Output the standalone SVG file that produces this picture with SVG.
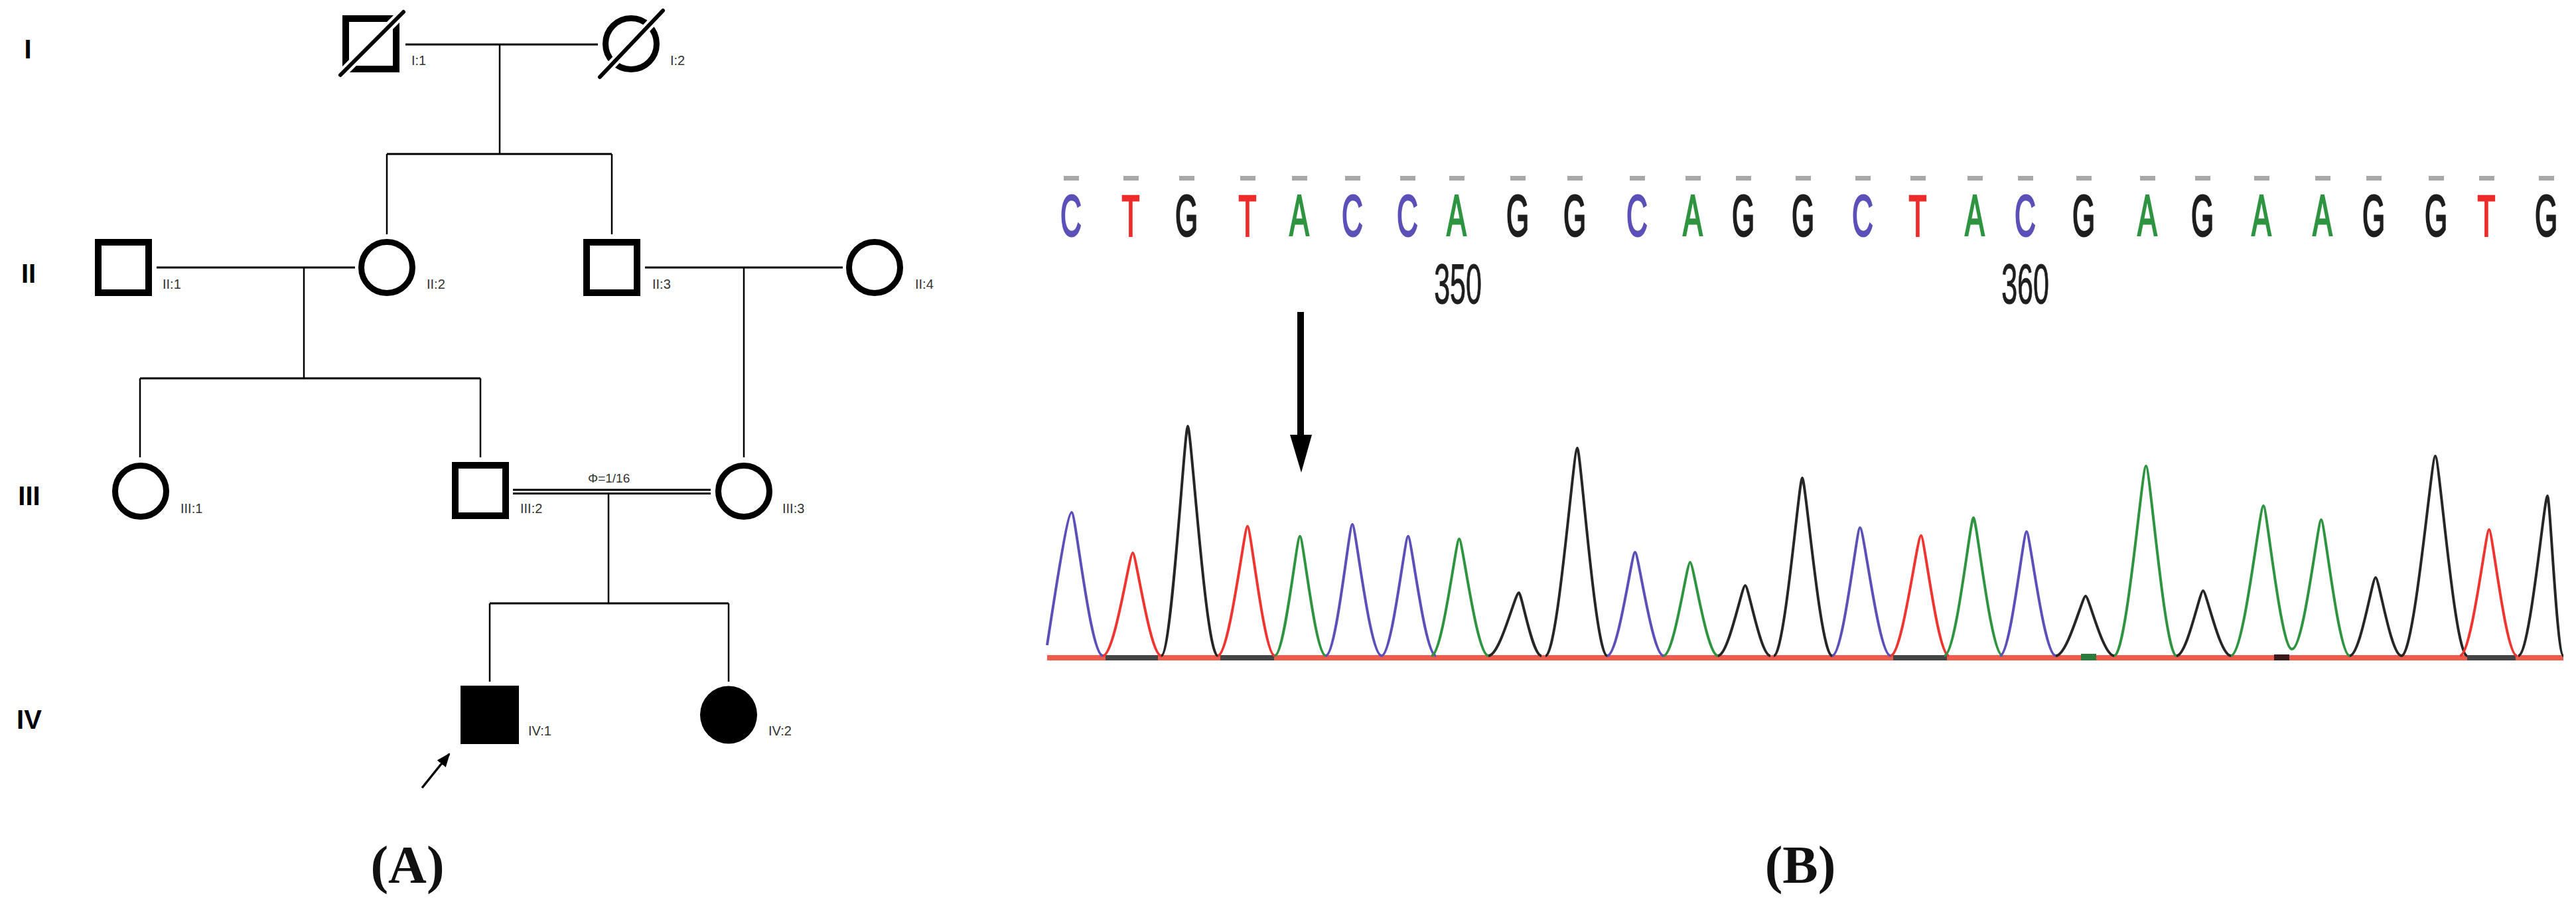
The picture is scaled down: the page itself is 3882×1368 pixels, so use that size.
<svg xmlns="http://www.w3.org/2000/svg" width="3882" height="1368" viewBox="0 0 3882 1368">
<defs>
<style>
.sq{fill:#fff;stroke:#000;stroke-width:10}
.ci{fill:#fff;stroke:#000;stroke-width:9}
.aff{fill:#000;stroke:none}
.lbl{font-family:"Liberation Sans",Arial,sans-serif;font-size:20px;fill:#333}
.gen{font-family:"Liberation Sans",Arial,sans-serif;font-size:40px;font-weight:bold;fill:#000;text-anchor:middle}
.conn line{stroke:#000;stroke-width:3}
.conn line.v{stroke-width:2.5}
.panel{font-family:"Liberation Serif","Times New Roman",serif;font-size:80px;font-weight:bold;fill:#111;text-anchor:middle}
.base{font-family:"Liberation Sans",Arial,sans-serif;font-size:88px;text-anchor:middle;stroke-width:3}
.C{fill:#5b50b8;stroke:#5b50b8}.T{fill:#ee2b2b;stroke:#ee2b2b}.G{fill:#1e1e1e;stroke:#1e1e1e}.A{fill:#2e9440;stroke:#2e9440}
.pos{font-family:"Liberation Sans",Arial,sans-serif;font-size:86px;text-anchor:middle;fill:#1e1e1e;stroke:#1e1e1e;stroke-width:1}
.dash{fill:#a8a8a8}
.pk{fill:none;stroke-width:4;stroke-linejoin:round}
.pb{stroke:#5b50b8}.pr{stroke:#ee3530}.pg{stroke:#2e9440}.pk0{stroke:#262626}
</style>
<marker id="ah" viewBox="0 0 10 10" refX="9" refY="5" markerWidth="6" markerHeight="6" orient="auto" markerUnits="strokeWidth">
<path d="M0,1 L10,5 L0,9 Z" fill="#000"/>
</marker>
</defs>
<rect width="3882" height="1368" fill="#fff"/>

<!-- Generation labels -->
<g id="gen-labels">
<text class="gen" x="42" y="88">I</text>
<text class="gen" x="43" y="426">II</text>
<text class="gen" x="44" y="761">III</text>
<text class="gen" x="44" y="1098">IV</text>
</g>

<!-- Connectors -->
<g id="connectors" class="conn">
<line x1="611" y1="67" x2="901" y2="67"/>
<line class="v" x1="753" y1="67" x2="753" y2="232"/>
<line x1="583" y1="232" x2="922" y2="232"/>
<line class="v" x1="583" y1="232" x2="583" y2="353"/>
<line class="v" x1="922" y1="232" x2="922" y2="353"/>
<line x1="236" y1="403" x2="535" y2="403"/>
<line class="v" x1="458" y1="403" x2="458" y2="570"/>
<line x1="972" y1="403" x2="1270" y2="403"/>
<line class="v" x1="1121" y1="403" x2="1121" y2="689"/>
<line x1="211" y1="570" x2="724" y2="570"/>
<line class="v" x1="211" y1="570" x2="211" y2="689"/>
<line class="v" x1="724" y1="570" x2="724" y2="689"/>
<line x1="773" y1="738" x2="1071" y2="738"/>
<line x1="773" y1="743.5" x2="1071" y2="743.5"/>
<line class="v" x1="917" y1="743" x2="917" y2="909"/>
<line x1="738" y1="909" x2="1098" y2="909"/>
<line class="v" x1="738" y1="909" x2="738" y2="1027"/>
<line class="v" x1="1098" y1="909" x2="1098" y2="1027"/>
</g>
<text id="phi" class="lbl" x="886" y="727" style="font-size:19px">Φ=1/16</text>

<!-- Nodes -->
<g id="I-1">
<rect class="sq" x="521" y="28" width="76" height="76"/>
<line x1="513" y1="113" x2="608" y2="18" stroke="#fff" stroke-width="14" stroke-linecap="round"/>
<line x1="513" y1="113" x2="608" y2="18" stroke="#000" stroke-width="6" stroke-linecap="round"/>
<text class="lbl" x="620" y="98">I:1</text>
</g>
<g id="I-2">
<circle class="ci" cx="951" cy="66" r="38.5"/>
<line x1="904" y1="116" x2="999" y2="16" stroke="#fff" stroke-width="14" stroke-linecap="round"/>
<line x1="904" y1="116" x2="999" y2="16" stroke="#000" stroke-width="6" stroke-linecap="round"/>
<text class="lbl" x="1010" y="98">I:2</text>
</g>
<g id="II-1">
<rect class="sq" x="148" y="365" width="76" height="76"/>
<text class="lbl" x="245" y="435">II:1</text>
</g>
<g id="II-2">
<circle class="ci" cx="583" cy="403" r="38.5"/>
<text class="lbl" x="643" y="435">II:2</text>
</g>
<g id="II-3">
<rect class="sq" x="884" y="365" width="76" height="76"/>
<text class="lbl" x="983" y="435">II:3</text>
</g>
<g id="II-4">
<circle class="ci" cx="1318" cy="403" r="38.5"/>
<text class="lbl" x="1379" y="435">II:4</text>
</g>
<g id="III-1">
<circle class="ci" cx="212" cy="740" r="38.5"/>
<text class="lbl" x="272" y="773">III:1</text>
</g>
<g id="III-2">
<rect class="sq" x="686" y="701" width="76" height="76"/>
<text class="lbl" x="784" y="773">III:2</text>
</g>
<g id="III-3">
<circle class="ci" cx="1121" cy="740" r="38.5"/>
<text class="lbl" x="1179" y="773">III:3</text>
</g>
<g id="IV-1">
<rect class="aff" x="694" y="1033" width="88" height="88"/>
<text class="lbl" x="796" y="1108">IV:1</text>
</g>
<g id="IV-2">
<ellipse class="aff" cx="1098" cy="1077" rx="43" ry="43.5"/>
<text class="lbl" x="1158" y="1108">IV:2</text>
</g>
<g id="proband-arrow">
<line x1="636" y1="1187" x2="677" y2="1136" stroke="#000" stroke-width="3.5" marker-end="url(#ah)"/>
</g>

<text class="panel" x="614" y="1330">(A)</text>
<text class="panel" x="2713" y="1330">(B)</text>

<!-- Chromatogram -->
<g id="sequence">
<g class="dash">
<rect x="1603" y="265" width="23" height="7"/><rect x="1693" y="265" width="23" height="7"/><rect x="1777" y="265" width="23" height="7"/><rect x="1869" y="265" width="23" height="7"/><rect x="1947" y="265" width="23" height="7"/><rect x="2027" y="265" width="23" height="7"/><rect x="2110" y="265" width="23" height="7"/><rect x="2184" y="265" width="23" height="7"/><rect x="2276" y="265" width="23" height="7"/><rect x="2362" y="265" width="23" height="7"/><rect x="2456" y="265" width="23" height="7"/><rect x="2540" y="265" width="23" height="7"/><rect x="2616" y="265" width="23" height="7"/><rect x="2706" y="265" width="23" height="7"/>
<rect x="2796" y="265" width="23" height="7"/><rect x="2879" y="265" width="23" height="7"/><rect x="2965" y="265" width="23" height="7"/><rect x="3041" y="265" width="23" height="7"/><rect x="3129" y="265" width="23" height="7"/><rect x="3225" y="265" width="23" height="7"/><rect x="3308" y="265" width="23" height="7"/><rect x="3397" y="265" width="23" height="7"/><rect x="3489" y="265" width="23" height="7"/><rect x="3566" y="265" width="23" height="7"/><rect x="3660" y="265" width="23" height="7"/><rect x="3736" y="265" width="23" height="7"/><rect x="3826" y="265" width="23" height="7"/>
</g>
<text class="base C" transform="translate(1614 355) scale(0.5 1)">C</text>
<text class="base T" transform="translate(1704 355) scale(0.5 1)">T</text>
<text class="base G" transform="translate(1788 355) scale(0.5 1)">G</text>
<text class="base T" transform="translate(1880 355) scale(0.5 1)">T</text>
<text class="base A" transform="translate(1958 355) scale(0.5 1)">A</text>
<text class="base C" transform="translate(2038 355) scale(0.5 1)">C</text>
<text class="base C" transform="translate(2121 355) scale(0.5 1)">C</text>
<text class="base A" transform="translate(2195 355) scale(0.5 1)">A</text>
<text class="base G" transform="translate(2287 355) scale(0.5 1)">G</text>
<text class="base G" transform="translate(2373 355) scale(0.5 1)">G</text>
<text class="base C" transform="translate(2467 355) scale(0.5 1)">C</text>
<text class="base A" transform="translate(2551 355) scale(0.5 1)">A</text>
<text class="base G" transform="translate(2627 355) scale(0.5 1)">G</text>
<text class="base G" transform="translate(2717 355) scale(0.5 1)">G</text>
<text class="base C" transform="translate(2807 355) scale(0.5 1)">C</text>
<text class="base T" transform="translate(2890 355) scale(0.5 1)">T</text>
<text class="base A" transform="translate(2976 355) scale(0.5 1)">A</text>
<text class="base C" transform="translate(3052 355) scale(0.5 1)">C</text>
<text class="base G" transform="translate(3140 355) scale(0.5 1)">G</text>
<text class="base A" transform="translate(3236 355) scale(0.5 1)">A</text>
<text class="base G" transform="translate(3319 355) scale(0.5 1)">G</text>
<text class="base A" transform="translate(3408 355) scale(0.5 1)">A</text>
<text class="base A" transform="translate(3500 355) scale(0.5 1)">A</text>
<text class="base G" transform="translate(3577 355) scale(0.5 1)">G</text>
<text class="base G" transform="translate(3671 355) scale(0.5 1)">G</text>
<text class="base T" transform="translate(3747 355) scale(0.5 1)">T</text>
<text class="base G" transform="translate(3837 355) scale(0.5 1)">G</text>
<text class="pos" transform="translate(2197 457) scale(0.5 1)">350</text>
<text class="pos" transform="translate(3052 457) scale(0.5 1)">360</text>
</g>

<g id="mutation-arrow">
<line x1="1960" y1="470" x2="1960" y2="660" stroke="#000" stroke-width="10"/>
<polygon points="1944,655 1977,655 1961,712" fill="#000"/>
</g>

<g id="trace">
<line x1="1578" y1="991" x2="3863" y2="991" stroke="#ee5a4c" stroke-width="8"/>
<g fill="#444">
<rect x="1666" y="987" width="79" height="8"/><rect x="1839" y="987" width="81" height="8"/><rect x="2853" y="987" width="81" height="8"/><rect x="3718" y="987" width="73" height="8"/>
<rect x="3427" y="986" width="23" height="9" fill="#3a1a1a"/>
</g>
<rect x="3136" y="985" width="23" height="10" fill="#2e7a3a"/>
<path class="pk pb" d="M1578,972 C1592,880 1609,772 1615,772 C1621,772 1643,988 1662,988"/>
<path class="pk pr" d="M1662,988 C1680,988 1702,833 1707,833 C1712,833 1733,988 1750,988"/>
<path class="pk pk0" d="M1750,988 C1766,988 1785,642 1790,642 C1795,642 1817,988 1835,988"/>
<path class="pk pr" d="M1835,988 C1853,988 1875,793 1880,793 C1885,793 1905,988 1921,988"/>
<path class="pk pg" d="M1921,988 C1936,988 1954,808 1959,808 C1964,808 1982,988 1998,988"/>
<path class="pk pb" d="M1998,988 C2014,988 2033,790 2038,790 C2043,790 2064,988 2082,988"/>
<path class="pk pb" d="M2082,988 C2098,988 2117,808 2122,808 C2127,808 2147,988 2164,988"/>
<path class="pk pg" d="M2157,988 C2174,988 2194,812 2199,812 C2204,812 2225,988 2243,988"/>
<path class="pk pk0" d="M2243,988 C2261,988 2283,893 2289,893 C2293,893 2309,988 2323,988"/>
<path class="pk pk0" d="M2329,988 C2348,988 2371,675 2377,675 C2382,675 2404,988 2422,988"/>
<path class="pk pb" d="M2422,988 C2439,988 2459,832 2464,832 C2469,832 2490,988 2507,988"/>
<path class="pk pg" d="M2507,988 C2523,988 2542,847 2547,847 C2552,847 2572,988 2589,988"/>
<path class="pk pk0" d="M2589,988 C2605,988 2625,882 2630,882 C2635,882 2653,988 2668,988"/>
<path class="pk pk0" d="M2673,988 C2690,988 2711,720 2716,720 C2721,720 2743,988 2761,988"/>
<path class="pk pb" d="M2761,988 C2778,988 2798,795 2803,795 C2809,795 2831,988 2849,988"/>
<path class="pk pr" d="M2849,988 C2867,988 2889,807 2895,807 C2900,807 2920,988 2937,988"/>
<path class="pk pg" d="M2930,988 C2948,988 2969,780 2974,780 C2979,780 3000,988 3018,988"/>
<path class="pk pb" d="M3014,988 C3030,988 3049,801 3054,801 C3059,801 3080,988 3098,988"/>
<path class="pk pk0" d="M3098,988 C3116,988 3138,898 3143,898 C3148,898 3169,988 3186,988"/>
<path class="pk pg" d="M3186,988 C3205,988 3228,702 3234,702 C3240,702 3262,988 3280,988"/>
<path class="pk pk0" d="M3280,988 C3296,988 3315,890 3320,890 C3325,890 3345,988 3362,988"/>
<path class="pk pg" d="M3362,988 C3382,988 3405,762 3411,762 C3416,762 3437,978 3454,978"/>
<path class="pk pg" d="M3454,978 C3472,978 3493,783 3498,783 C3503,783 3524,988 3541,988"/>
<path class="pk pk0" d="M3541,988 C3557,988 3575,870 3580,870 C3585,870 3603,988 3619,988"/>
<path class="pk pk0" d="M3619,988 C3639,988 3664,687 3670,687 C3676,687 3699,988 3718,988"/>
<path class="pk pr" d="M3707,988 C3725,988 3746,798 3751,798 C3756,798 3776,988 3793,988"/>
<path class="pk pk0" d="M3795,988 C3813,988 3834,747 3839,747 C3843,747 3853,988 3863,988"/>
</g>
</svg>
